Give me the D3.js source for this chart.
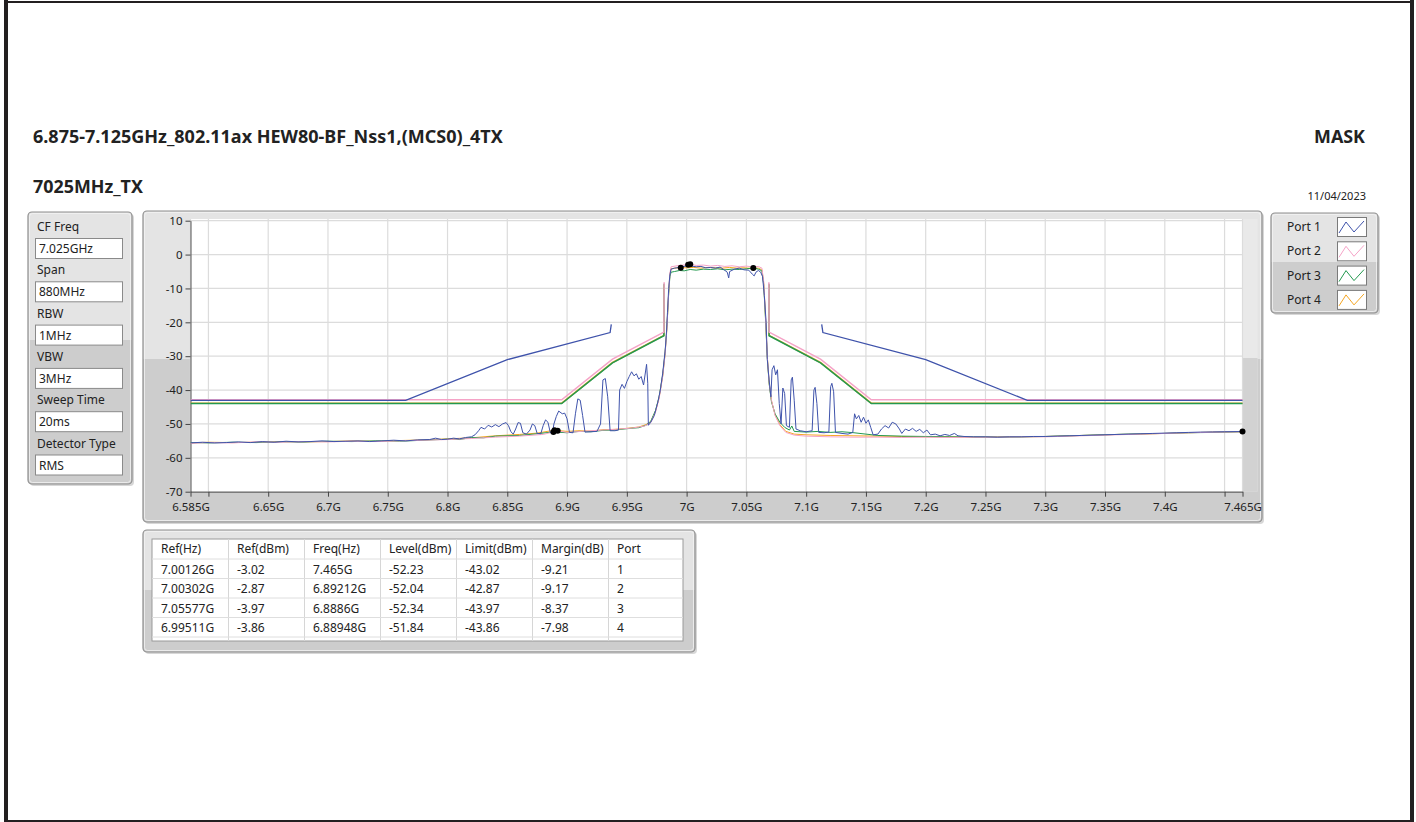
<!DOCTYPE html>
<html><head><meta charset="utf-8">
<script src="https://cdn.jsdelivr.net/npm/d3@7"></script>
<style>
html,body{margin:0;padding:0;background:#fff;}
svg{display:block;}
text{font-family:"Noto Sans","Open Sans",sans-serif;fill:#222;}
</style></head><body>
<svg id="c" width="1416" height="822"></svg>
<script>
// ---------------- DATA ----------------
const titleText = "6.875-7.125GHz_802.11ax HEW80-BF_Nss1,(MCS0)_4TX";
const subtitleText = "7025MHz_TX";
const maskText = "MASK";
const dateText = "11/04/2023";

const settingLabels = ["CF Freq","Span","RBW","VBW","Sweep Time","Detector Type"];
const settingValues = ["7.025GHz","880MHz","1MHz","3MHz","20ms","RMS"];

const portNames = ["Port 1","Port 2","Port 3","Port 4"];
const portColors = ["#3f53ab","#f5a3c7","#23994f","#f5a623"];

const xTicks = [6.585,6.6,6.65,6.7,6.75,6.8,6.85,6.9,6.95,7.0,7.05,7.1,7.15,7.2,7.25,7.3,7.35,7.4,7.45,7.465];
const xTickLabels = ["6.585G","","6.65G","6.7G","6.75G","6.8G","6.85G","6.9G","6.95G","7G","7.05G","7.1G","7.15G","7.2G","7.25G","7.3G","7.35G","7.4G","","7.465G"];
const yTicks = [10,0,-10,-20,-30,-40,-50,-60,-70];
const yTickLabels = ["10","0","-10","-20","-30","-40","-50","-60","-70"];

// limit masks (GHz, dBm); null = break
const maskFreqP1  = [6.585,6.765,6.85,6.936,6.937,null,7.113,7.114,7.2,7.285,7.465];
const maskLevelP1 = [-43.02,-43.02,-31.02,-23.02,-20.6,null,-20.6,-23.02,-31.02,-43.02,-43.02];
const maskFreqStd = [6.585,6.8955,6.938,6.981,6.9812,null,7.0688,7.069,7.112,7.1545,7.465];
const maskLevelP2 = [-42.87,-42.87,-30.87,-22.87,-8.2,null,-8.2,-22.87,-30.87,-42.87,-42.87];
const maskLevelP3 = [-43.97,-43.97,-31.97,-23.97,-8.6,null,-8.6,-23.97,-31.97,-43.97,-43.97];
const maskLevelP4 = [-43.86,-43.86,-31.86,-23.86,-8.9,null,-8.9,-23.86,-31.86,-43.86,-43.86];

// measured traces [GHz, dBm]
const tracePort1 = [
[6.585,-55.6],[6.595,-55.4],[6.605,-55.6],[6.615,-55.5],[6.625,-55.3],[6.635,-55.5],[6.645,-55.2],[6.655,-55.4],
[6.665,-55.1],[6.675,-55.3],[6.685,-55.2],[6.695,-55.0],[6.705,-55.2],[6.715,-55.1],[6.725,-55.0],[6.735,-55.2],
[6.745,-55.0],[6.755,-54.8],[6.765,-55.0],[6.775,-54.7],[6.785,-54.6],[6.79,-54.2],[6.795,-54.6],[6.8,-54.5],
[6.805,-54.2],[6.81,-54.4],[6.815,-54.0],[6.82,-53.8],[6.823,-53.2],[6.826,-52.0],[6.828,-51.0],[6.831,-51.5],
[6.834,-50.4],[6.837,-50.9],[6.84,-50.2],[6.843,-50.8],[6.846,-50.0],[6.849,-49.6],[6.851,-50.5],[6.853,-52.3],
[6.855,-53.0],[6.857,-51.5],[6.859,-49.6],[6.861,-49.8],[6.863,-52.6],[6.866,-53.0],[6.869,-51.8],[6.871,-50.0],
[6.873,-50.5],[6.875,-52.8],[6.878,-52.9],[6.88,-50.5],[6.882,-48.8],[6.884,-49.5],[6.886,-52.6],[6.888,-52.3],
[6.889,-50.0],[6.891,-47.8],[6.893,-46.2],[6.896,-47.0],[6.898,-46.8],[6.9,-48.5],[6.902,-52.5],[6.905,-52.6],
[6.907,-47.0],[6.909,-42.6],[6.911,-43.0],[6.913,-47.5],[6.915,-52.4],[6.92,-52.3],[6.925,-52.2],[6.928,-50.0],
[6.93,-37.0],[6.932,-36.6],[6.934,-42.0],[6.936,-52.0],[6.94,-52.0],[6.943,-51.8],[6.944,-40.0],[6.946,-38.3],
[6.948,-39.5],[6.95,-37.5],[6.952,-36.0],[6.954,-34.6],[6.956,-35.8],[6.958,-35.2],[6.96,-36.8],[6.962,-36.0],
[6.964,-38.5],[6.9665,-32.4],[6.9675,-38.0],[6.968,-50.4],[6.97,-49.5],[6.973,-47.5],[6.976,-43.5],[6.978,-40.0],
[6.98,-35.0],[6.982,-28.5],[6.983,-24.0],[6.984,-17.0],[6.985,-10.0],[6.986,-6.0],[6.987,-4.3],[6.99,-4.0],
[6.9953,-3.7],[7.0,-3.3],[7.00126,-3.02],[7.004,-3.4],[7.008,-3.6],[7.012,-3.5],[7.016,-3.9],[7.02,-3.8],
[7.024,-4.0],[7.028,-3.7],[7.031,-4.4],[7.034,-5.2],[7.0352,-6.9],[7.036,-5.0],[7.04,-4.3],[7.044,-4.0],
[7.048,-4.5],[7.052,-4.6],[7.055,-5.8],[7.0565,-6.3],[7.058,-5.2],[7.06,-4.7],[7.062,-5.2],[7.0635,-6.5],
[7.065,-12.0],[7.0665,-20.0],[7.0675,-31.0],[7.069,-37.0],[7.0705,-42.0],[7.0715,-34.0],[7.073,-32.8],[7.0745,-35.5],
[7.076,-34.0],[7.0775,-44.0],[7.079,-50.0],[7.0805,-39.4],[7.082,-41.0],[7.0835,-50.5],[7.086,-51.0],[7.0875,-37.0],
[7.0885,-36.2],[7.09,-43.0],[7.0915,-51.5],[7.095,-52.0],[7.1,-52.3],[7.105,-52.0],[7.1065,-40.0],[7.1075,-39.2],
[7.109,-44.0],[7.1105,-52.5],[7.115,-52.6],[7.119,-52.4],[7.1205,-39.0],[7.1215,-38.0],[7.123,-40.5],[7.1245,-52.5],
[7.13,-52.8],[7.135,-53.0],[7.139,-52.5],[7.1405,-47.0],[7.142,-48.5],[7.144,-47.5],[7.146,-49.5],[7.148,-48.0],
[7.15,-49.8],[7.152,-48.8],[7.154,-51.0],[7.156,-53.2],[7.16,-53.0],[7.163,-51.5],[7.166,-50.5],[7.169,-51.2],
[7.172,-49.5],[7.175,-50.0],[7.178,-51.5],[7.18,-52.8],[7.183,-51.5],[7.186,-52.0],[7.189,-51.3],[7.192,-52.2],
[7.195,-51.6],[7.198,-52.6],[7.201,-51.8],[7.204,-53.2],[7.208,-53.0],[7.212,-53.5],[7.216,-53.1],[7.22,-53.4],
[7.224,-52.8],[7.227,-53.5],[7.232,-53.7],[7.24,-53.8],[7.25,-53.8],[7.26,-53.9],[7.27,-53.8],[7.28,-53.8],
[7.29,-53.7],[7.3,-53.7],[7.31,-53.6],[7.32,-53.5],[7.33,-53.4],[7.34,-53.3],[7.35,-53.2],[7.36,-53.1],
[7.37,-53.0],[7.38,-52.9],[7.39,-52.8],[7.4,-52.7],[7.41,-52.6],[7.42,-52.5],[7.43,-52.4],[7.44,-52.35],
[7.45,-52.3],[7.465,-52.23]];

const tracePort2 = [
[6.585,-55.7],[6.6,-55.5],[6.62,-55.6],[6.64,-55.3],[6.66,-55.4],[6.68,-55.2],[6.7,-55.3],[6.72,-55.1],
[6.74,-55.2],[6.76,-55.0],[6.78,-54.8],[6.8,-54.6],[6.82,-54.3],[6.84,-53.9],[6.86,-53.6],[6.88,-53.1],
[6.89212,-52.04],[6.9,-52.5],[6.92,-52.0],[6.94,-51.6],[6.955,-51.2],[6.965,-50.6],[6.97,-49.6],[6.974,-46.5],
[6.977,-42.5],[6.98,-36.0],[6.982,-29.5],[6.9835,-22.0],[6.985,-11.0],[6.986,-5.5],[6.987,-3.6],[6.992,-3.3],
[6.997,-3.1],[7.00302,-2.87],[7.008,-3.2],[7.014,-3.1],[7.02,-3.4],[7.026,-3.2],[7.032,-3.5],[7.038,-3.3],
[7.044,-3.6],[7.05,-3.4],[7.056,-3.7],[7.06,-3.5],[7.063,-4.0],[7.0645,-8.0],[7.066,-18.0],[7.0675,-30.0],
[7.069,-37.5],[7.071,-43.0],[7.074,-47.5],[7.078,-50.5],[7.083,-52.5],[7.09,-53.3],[7.1,-53.6],[7.12,-53.8],
[7.14,-53.9],[7.16,-53.9],[7.18,-54.0],[7.2,-53.9],[7.22,-54.0],[7.24,-53.9],[7.26,-53.9],[7.28,-53.8],
[7.3,-53.8],[7.32,-53.6],[7.34,-53.4],[7.36,-53.2],[7.38,-53.0],[7.4,-52.8],[7.42,-52.6],[7.44,-52.45],[7.465,-52.3]];

const tracePort3 = [
[6.585,-55.5],[6.6,-55.6],[6.62,-55.4],[6.64,-55.5],[6.66,-55.3],[6.68,-55.3],[6.7,-55.1],[6.72,-55.2],
[6.74,-55.0],[6.76,-55.1],[6.78,-54.8],[6.8,-54.5],[6.81,-54.6],[6.82,-54.0],[6.83,-54.1],[6.84,-53.6],
[6.86,-53.4],[6.875,-52.9],[6.8886,-52.34],[6.9,-52.6],[6.91,-52.2],[6.92,-52.3],[6.93,-51.9],[6.94,-51.8],
[6.95,-51.4],[6.96,-51.1],[6.966,-50.4],[6.97,-49.2],[6.974,-46.0],[6.977,-42.0],[6.98,-35.5],[6.982,-29.0],
[6.9835,-21.5],[6.985,-11.5],[6.986,-6.5],[6.987,-5.2],[6.99,-5.0],[6.994,-4.7],[6.998,-4.8],[7.003,-4.4],
[7.008,-4.6],[7.014,-4.3],[7.02,-4.4],[7.026,-4.2],[7.032,-4.5],[7.038,-4.3],[7.044,-4.4],[7.05,-4.2],
[7.05577,-3.97],[7.06,-4.3],[7.063,-4.8],[7.0645,-9.0],[7.066,-19.0],[7.0675,-30.5],[7.069,-38.0],[7.071,-43.5],
[7.074,-47.0],[7.078,-49.5],[7.082,-51.0],[7.086,-51.8],[7.088,-50.6],[7.09,-52.2],[7.1,-52.4],[7.11,-52.2],
[7.12,-52.5],[7.13,-52.3],[7.14,-52.6],[7.15,-53.0],[7.16,-53.4],[7.18,-53.6],[7.2,-53.7],[7.22,-53.8],
[7.24,-53.8],[7.26,-53.9],[7.28,-53.8],[7.3,-53.7],[7.32,-53.5],[7.34,-53.3],[7.36,-53.1],[7.38,-52.9],
[7.4,-52.8],[7.42,-52.6],[7.44,-52.5],[7.465,-52.3]];

const tracePort4 = [
[6.585,-55.6],[6.6,-55.4],[6.62,-55.5],[6.64,-55.4],[6.66,-55.2],[6.68,-55.3],[6.7,-55.2],[6.72,-55.0],
[6.74,-55.1],[6.76,-54.9],[6.78,-54.7],[6.8,-54.4],[6.82,-54.1],[6.84,-53.5],[6.86,-53.1],[6.875,-52.7],
[6.88948,-51.84],[6.9,-52.2],[6.91,-52.0],[6.92,-52.1],[6.93,-51.7],[6.94,-51.6],[6.95,-51.3],[6.96,-50.9],
[6.966,-50.2],[6.97,-49.4],[6.974,-46.2],[6.977,-42.2],[6.98,-35.8],[6.982,-29.2],[6.9835,-21.8],[6.985,-11.2],
[6.986,-6.0],[6.987,-4.2],[6.99,-4.0],[6.99511,-3.86],[7.0,-3.9],[7.006,-3.8],[7.012,-4.0],[7.018,-3.8],
[7.024,-3.9],[7.03,-4.0],[7.036,-3.8],[7.042,-4.0],[7.048,-3.9],[7.054,-4.1],[7.06,-4.0],[7.063,-4.5],
[7.0645,-8.5],[7.066,-18.5],[7.0675,-30.2],[7.069,-37.8],[7.071,-43.2],[7.074,-47.3],[7.078,-50.2],[7.083,-52.2],
[7.09,-53.0],[7.1,-53.2],[7.12,-53.4],[7.14,-53.5],[7.16,-53.6],[7.18,-53.7],[7.2,-53.8],[7.22,-53.8],
[7.24,-53.9],[7.26,-53.8],[7.28,-53.8],[7.3,-53.7],[7.32,-53.5],[7.34,-53.3],[7.36,-53.1],[7.38,-53.0],
[7.4,-52.8],[7.42,-52.6],[7.44,-52.4],[7.465,-52.3]];

// results table
const tableHeaders = ["Ref(Hz)","Ref(dBm)","Freq(Hz)","Level(dBm)","Limit(dBm)","Margin(dB)","Port"];
const refHz    = ["7.00126G","7.00302G","7.05577G","6.99511G"];
const refDbm   = ["-3.02","-2.87","-3.97","-3.86"];
const freqHz   = ["7.465G","6.89212G","6.8886G","6.88948G"];
const levelDbm = ["-52.23","-52.04","-52.34","-51.84"];
const limitDbm = ["-43.02","-42.87","-43.97","-43.86"];
const marginDb = ["-9.21","-9.17","-8.37","-7.98"];
const portNo   = ["1","2","3","4"];

// ---------------- DRAW ----------------
const svg = d3.select("#c");
const defs = svg.append("defs");
const TOP = "#e4e4e4", BOT = "#cdcdcd";

function grad(id, frac){
  const g = defs.append("linearGradient").attr("id",id).attr("x1",0).attr("y1",0).attr("x2",0).attr("y2",1);
  g.append("stop").attr("offset",0).attr("stop-color",TOP);
  g.append("stop").attr("offset",frac).attr("stop-color",TOP);
  g.append("stop").attr("offset",frac).attr("stop-color",BOT);
  g.append("stop").attr("offset",1).attr("stop-color",BOT);
}
function panel(id,x0,y0,x1,y1,frac){
  grad(id,frac);
  svg.append("rect").attr("x",x0+2).attr("y",y0+2).attr("width",x1-x0).attr("height",y1-y0)
     .attr("rx",4).attr("fill","#bdbdbd").attr("opacity",0.6);
  svg.append("rect").attr("x",x0).attr("y",y0).attr("width",x1-x0).attr("height",y1-y0)
     .attr("rx",4).attr("fill",`url(#${id})`).attr("stroke","#8e8e8e").attr("stroke-width",1.2);
  svg.append("rect").attr("x",x0+1.5).attr("y",y0+1.5).attr("width",x1-x0-3).attr("height",y1-y0-3)
     .attr("rx",3).attr("fill","none").attr("stroke","#f2f2f2").attr("stroke-width",0.8);
}

// page border
svg.append("rect").attr("x",4).attr("y",0).attr("width",4).attr("height",822).attr("fill","#231f20");
svg.append("rect").attr("x",1410).attr("y",0).attr("width",4).attr("height",822).attr("fill","#231f20");
svg.append("rect").attr("x",4).attr("y",1).attr("width",1410).attr("height",2).attr("fill","#231f20");
svg.append("rect").attr("x",4).attr("y",820).attr("width",1410).attr("height",2).attr("fill","#231f20");

function fit(sel, w){
  const l = sel.node().getComputedTextLength();
  sel.attr("font-size", parseFloat(sel.attr("font-size"))*w/l);
}
// titles
fit(svg.append("text").attr("x",33).attr("y",143).attr("font-size",16).attr("font-weight","bold").attr("fill","#111").text(titleText),470);
fit(svg.append("text").attr("x",33).attr("y",193).attr("font-size",16).attr("font-weight","bold").attr("fill","#111").text(subtitleText),110);
const mk = svg.append("text").attr("x",1365).attr("y",143).attr("font-size",16).attr("font-weight","bold").attr("text-anchor","end").attr("fill","#111").text(maskText);
fit(mk,51);
svg.append("text").attr("x",1366).attr("y",200).attr("font-size",11).attr("text-anchor","end").attr("fill","#333").text(dateText);

// left settings panel
panel("gL",28,212,132,484,0.47);
settingLabels.forEach((lab,i)=>{
  const cy = 227 + i*43.3;
  svg.append("text").attr("x",37).attr("y",cy+4).attr("font-size",12).text(lab);
  svg.append("rect").attr("x",35.5).attr("y",cy+11.5).attr("width",87).attr("height",20)
     .attr("fill","#fff").attr("stroke","#8a8a8a").attr("stroke-width",1);
  svg.append("text").attr("x",39).attr("y",cy+26).attr("font-size",12).text(settingValues[i]);
});

// plot frame
panel("gP",143,211,1262,522,0.475);
const PX0=190.5, PX1=1242.5, PY0=220.7, PY1=491.7;
svg.append("rect").attr("x",PX0).attr("y",219).attr("width",PX1-PX0).attr("height",PY1-219)
   .attr("fill","#fff");
svg.append("rect").attr("x",PX1).attr("y",219).attr("width",15).attr("height",PY1-219).attr("fill","#e9e9e9");
svg.append("rect").attr("x",PX1).attr("y",358).attr("width",15).attr("height",PY1-358).attr("fill","#d2d2d2");

const x = d3.scaleLinear().domain([6.585,7.465]).range([PX0,PX1]);
const y = d3.scaleLinear().domain([-70,10]).range([PY1,PY0]);

// grid
svg.append("g").selectAll("line").data(xTicks).join("line")
  .attr("x1",d=>x(d)).attr("x2",d=>x(d)).attr("y1",219).attr("y2",PY1)
  .attr("stroke","#dcdcdc").attr("stroke-width",1.2);
svg.append("g").selectAll("line").data(yTicks).join("line")
  .attr("x1",PX0).attr("x2",PX1).attr("y1",d=>y(d)).attr("y2",d=>y(d))
  .attr("stroke","#dcdcdc").attr("stroke-width",1.2);

// axes
const xa = svg.append("g").attr("transform",`translate(0,${PY1})`)
  .call(d3.axisBottom(x).tickValues(xTicks).tickFormat((d,i)=>xTickLabels[i]).tickSize(5).tickSizeOuter(0));
const ya = svg.append("g").attr("transform",`translate(${PX0},0)`)
  .call(d3.axisLeft(y).tickValues(yTicks).tickFormat((d,i)=>yTickLabels[i]).tickSize(5).tickSizeOuter(0));
[xa,ya].forEach(a=>{
  a.selectAll("path").attr("stroke","#555");
  a.selectAll("line").attr("stroke","#444");
  a.selectAll("text").attr("font-family",'"Noto Sans","Open Sans",sans-serif').attr("font-size",11.5).attr("fill","#333");
});
xa.selectAll("text").attr("dy","0.95em");

// clip
defs.append("clipPath").attr("id","clipP").append("rect")
  .attr("x",PX0).attr("y",219).attr("width",PX1-PX0+0.5).attr("height",PY1-219);
const plot = svg.append("g").attr("clip-path","url(#clipP)");

const line = d3.line().defined(d=>d[1]!==null).x(d=>x(d[0])).y(d=>y(d[1]));
const zip = (f,l)=>f.map((v,i)=>[v,l[i]]);
const masks = [zip(maskFreqP1,maskLevelP1), zip(maskFreqStd,maskLevelP2), zip(maskFreqStd,maskLevelP3), zip(maskFreqStd,maskLevelP4)];
const traces = [tracePort1,tracePort2,tracePort3,tracePort4];

// draw order: port4, port3, port2, port1 (port 1 on top)
[3,2,1,0].forEach(i=>{
  plot.append("path").attr("d",line(masks[i])).attr("fill","none")
    .attr("stroke",portColors[i]).attr("stroke-width",i===0?1.3:1.5);
});
[3,2,1,0].forEach(i=>{
  plot.append("path").attr("d",line(traces[i])).attr("fill","none")
    .attr("stroke",portColors[i]).attr("stroke-width",1).attr("stroke-linejoin","round");
});

// markers
const markers = [];
refHz.forEach((r,i)=>{
  markers.push([parseFloat(r), parseFloat(refDbm[i])]);
  markers.push([parseFloat(freqHz[i]), parseFloat(levelDbm[i])]);
});
svg.append("g").selectAll("circle").data(markers).join("circle")
  .attr("cx",d=>x(d[0])).attr("cy",d=>y(d[1])).attr("r",3).attr("fill","#000");

// legend
panel("gG",1271,213,1378,313,0.49);
portNames.forEach((p,i)=>{
  const cy = 227 + i*24.3;
  svg.append("text").attr("x",1287).attr("y",cy+4).attr("font-size",12).text(p);
  svg.append("rect").attr("x",1337.5).attr("y",cy-9.5).attr("width",29).attr("height",19)
    .attr("fill","#fff").attr("stroke","#7a7a7a").attr("stroke-width",1);
  const pts = [[1339,cy+6],[1346,cy-5],[1354,cy+5],[1364,cy-6]];
  svg.append("path").attr("d",d3.line()(pts)).attr("fill","none").attr("stroke",portColors[i]).attr("stroke-width",1);
});

// table
panel("gT",143,530,695,652,0.49);
const TX0=152, TX1=683, TY0=539, TY1=641;
svg.append("rect").attr("x",TX0).attr("y",TY0).attr("width",TX1-TX0).attr("height",TY1-TY0)
  .attr("fill","#fff").attr("stroke","#9a9a9a").attr("stroke-width",1);
const colX = d3.range(7).map(i=>TX0+i*76);
const rowY = [TY0,559,578.5,598,617.5,637];
colX.slice(1).forEach(cx=>{
  svg.append("line").attr("x1",cx+0.5).attr("x2",cx+0.5).attr("y1",TY0).attr("y2",TY1).attr("stroke","#d6d6d6");
});
rowY.slice(1).forEach(ry=>{
  svg.append("line").attr("x1",TX0).attr("x2",TX1).attr("y1",ry).attr("y2",ry).attr("stroke","#dedede");
});
const cols = [refHz,refDbm,freqHz,levelDbm,limitDbm,marginDb,portNo];
tableHeaders.forEach((h,j)=>{
  svg.append("text").attr("x",colX[j]+9).attr("y",553).attr("font-size",12).text(h);
});
for(let r=0;r<4;r++){
  cols.forEach((c,j)=>{
    svg.append("text").attr("x",colX[j]+9).attr("y",rowY[r+1]+14.5).attr("font-size",12).text(c[r]);
  });
}
</script>
</body></html>
